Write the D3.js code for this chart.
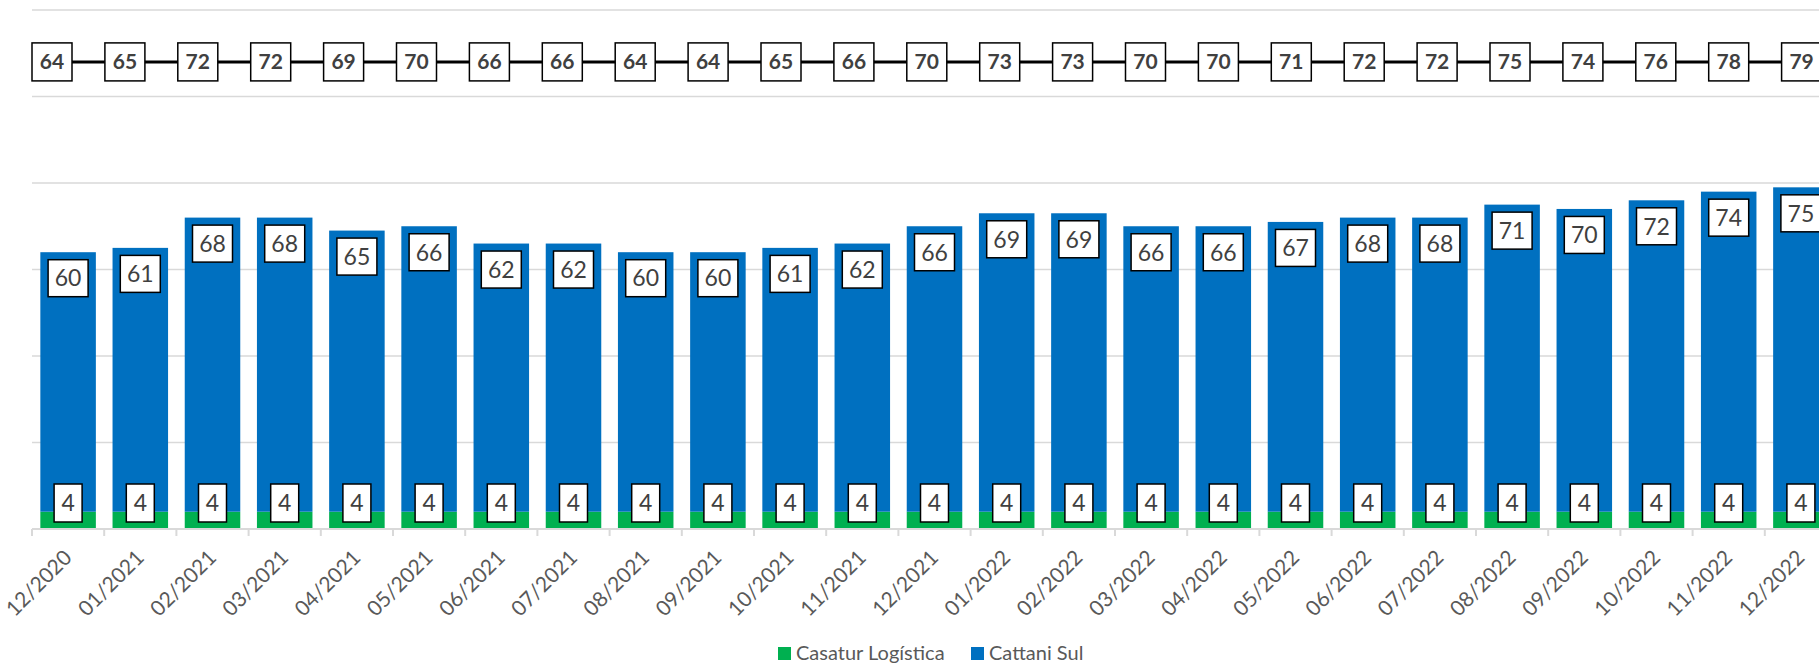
<!DOCTYPE html>
<meta charset="utf-8">
<style>
body { margin: 0; background: #fff; }
svg { font-family: Lato, "Open Sans", sans-serif; }
.grid line { stroke: #d9d9d9; stroke-width: 1.5px; }
.axis line, .axis path { stroke: #d9d9d9; stroke-width: 2px; }
.tick-label { font-size: 21px; fill: #595959; }
.lbl rect { fill: #fff; stroke: #000; stroke-width: 1.5px; }
.lbl text { font-size: 23px; fill: #404040; }
.lbl.top text { font-weight: bold; font-size: 21px; }
.total-line { fill: none; stroke: #000; stroke-width: 3px; }
.legend text { font-size: 20px; fill: #595959; }
</style>
<body>
<svg width="1819" height="663"></svg>
<script src="https://cdn.jsdelivr.net/npm/d3@7"></script>
<script>

let months = ['12/2020', '01/2021', '02/2021', '03/2021', '04/2021', '05/2021', '06/2021',
  '07/2021', '08/2021', '09/2021', '10/2021', '11/2021', '12/2021', '01/2022', '02/2022',
  '03/2022', '04/2022', '05/2022', '06/2022', '07/2022', '08/2022', '09/2022', '10/2022',
  '11/2022', '12/2022'];
let casatur = [4, 4, 4, 4, 4, 4, 4, 4, 4, 4, 4, 4, 4, 4, 4, 4, 4, 4, 4, 4, 4, 4, 4, 4, 4];
let cattani = [60, 61, 68, 68, 65, 66, 62, 62, 60, 60, 61, 62, 66, 69, 69, 66, 66, 67, 68, 68, 71, 70, 72, 74, 75];
let totals = [64, 65, 72, 72, 69, 70, 66, 66, 64, 64, 65, 66, 70, 73, 73, 70, 70, 71, 72, 72, 75, 74, 76, 78, 79];
let totalLevel = 108;   // flat helper series that carries the total labels
let yTicks = [0, 20, 40, 60, 80, 100, 120];

let series = [
  { name: 'Casatur Logística', color: '#00b050', values: casatur },
  { name: 'Cattani Sul', color: '#0070c0', values: cattani }
];

let svg = d3.select('svg');
let left = 32, step = 72.2;

let x = d3.scaleBand()
  .domain(months)
  .range([left, left + step * months.length])
  .paddingInner(0.231)
  .paddingOuter(0.1155);

// the total line sits on its own category axis
let xLine = d3.scalePoint()
  .domain(months)
  .range([52, 52 + 72.9 * (months.length - 1)]);

let y = d3.scaleLinear().domain([0, 120]).range([529, 10]);

// gridlines
svg.append('g').attr('class', 'grid')
  .selectAll('line')
  .data(yTicks.slice(1))
  .join('line')
  .attr('x1', left).attr('x2', 1819)
  .attr('y1', d => y(d)).attr('y2', d => y(d));

// stacked bars
let stackData = months.map((m, i) => ({ month: m, c0: casatur[i], c1: cattani[i] }));
let stacked = d3.stack().keys(['c0', 'c1'])(stackData);

svg.append('g')
  .selectAll('g')
  .data(stacked)
  .join('g')
  .attr('fill', (d, i) => series[i].color)
  .selectAll('rect')
  .data(d => d)
  .join('rect')
  .attr('x', d => x(d.data.month))
  .attr('width', x.bandwidth())
  .attr('y', d => y(d[1]))
  .attr('height', d => y(d[0]) - y(d[1]));

// x axis
svg.append('g').attr('class', 'axis')
  .append('line')
  .attr('x1', left).attr('x2', 1819)
  .attr('y1', y(0)).attr('y2', y(0));

svg.select('g.axis')
  .selectAll('line.tk')
  .data(months)
  .join('line')
  .attr('class', 'tk')
  .attr('x1', d => x(d) - x.step() * 0.1155).attr('x2', d => x(d) - x.step() * 0.1155)
  .attr('y1', y(0)).attr('y2', y(0) + 7);

svg.append('g')
  .selectAll('text')
  .data(months)
  .join('text')
  .attr('class', 'tick-label')
  .attr('text-anchor', 'end')
  .attr('transform', d => `translate(${x(d) + x.bandwidth() / 2 + 5},${y(0) + 30}) rotate(-45)`)
  .text(d => d);

// label helper
function addLabels(cls, data, w, h) {
  let g = svg.append('g')
    .selectAll('g')
    .data(data)
    .join('g')
    .attr('class', 'lbl ' + cls)
    .attr('transform', d => `translate(${d.cx},${d.cy})`);
  g.append('rect')
    .attr('x', -w / 2).attr('y', -h / 2)
    .attr('width', w).attr('height', h);
  g.append('text')
    .attr('text-anchor', 'middle')
    .attr('dy', '0.36em')
    .text(d => d.v);
}

// green labels
addLabels('green', months.map((m, i) => ({
  cx: x(m) + x.bandwidth() / 2, cy: y(0) - 26, v: casatur[i]
})), 28, 38);

// blue labels (inside end)
addLabels('blue', months.map((m, i) => ({
  cx: x(m) + x.bandwidth() / 2, cy: y(casatur[i] + cattani[i]) + 26, v: cattani[i]
})), 40, 37);

// total line
svg.append('path')
  .attr('class', 'total-line')
  .attr('d', d3.line()
    .x(d => xLine(d))
    .y(() => y(totalLevel))(months));

addLabels('top', months.map((m, i) => ({
  cx: xLine(m), cy: y(totalLevel), v: totals[i]
})), 40, 38);

// legend
let legend = svg.append('g').attr('class', 'legend');
let lx = [778, 971];
series.forEach((s, i) => {
  legend.append('rect')
    .attr('x', lx[i]).attr('y', 647)
    .attr('width', 13).attr('height', 13)
    .attr('fill', s.color);
  legend.append('text')
    .attr('x', lx[i] + 18).attr('y', 660)
    .text(s.name);
});

</script>
</body>
